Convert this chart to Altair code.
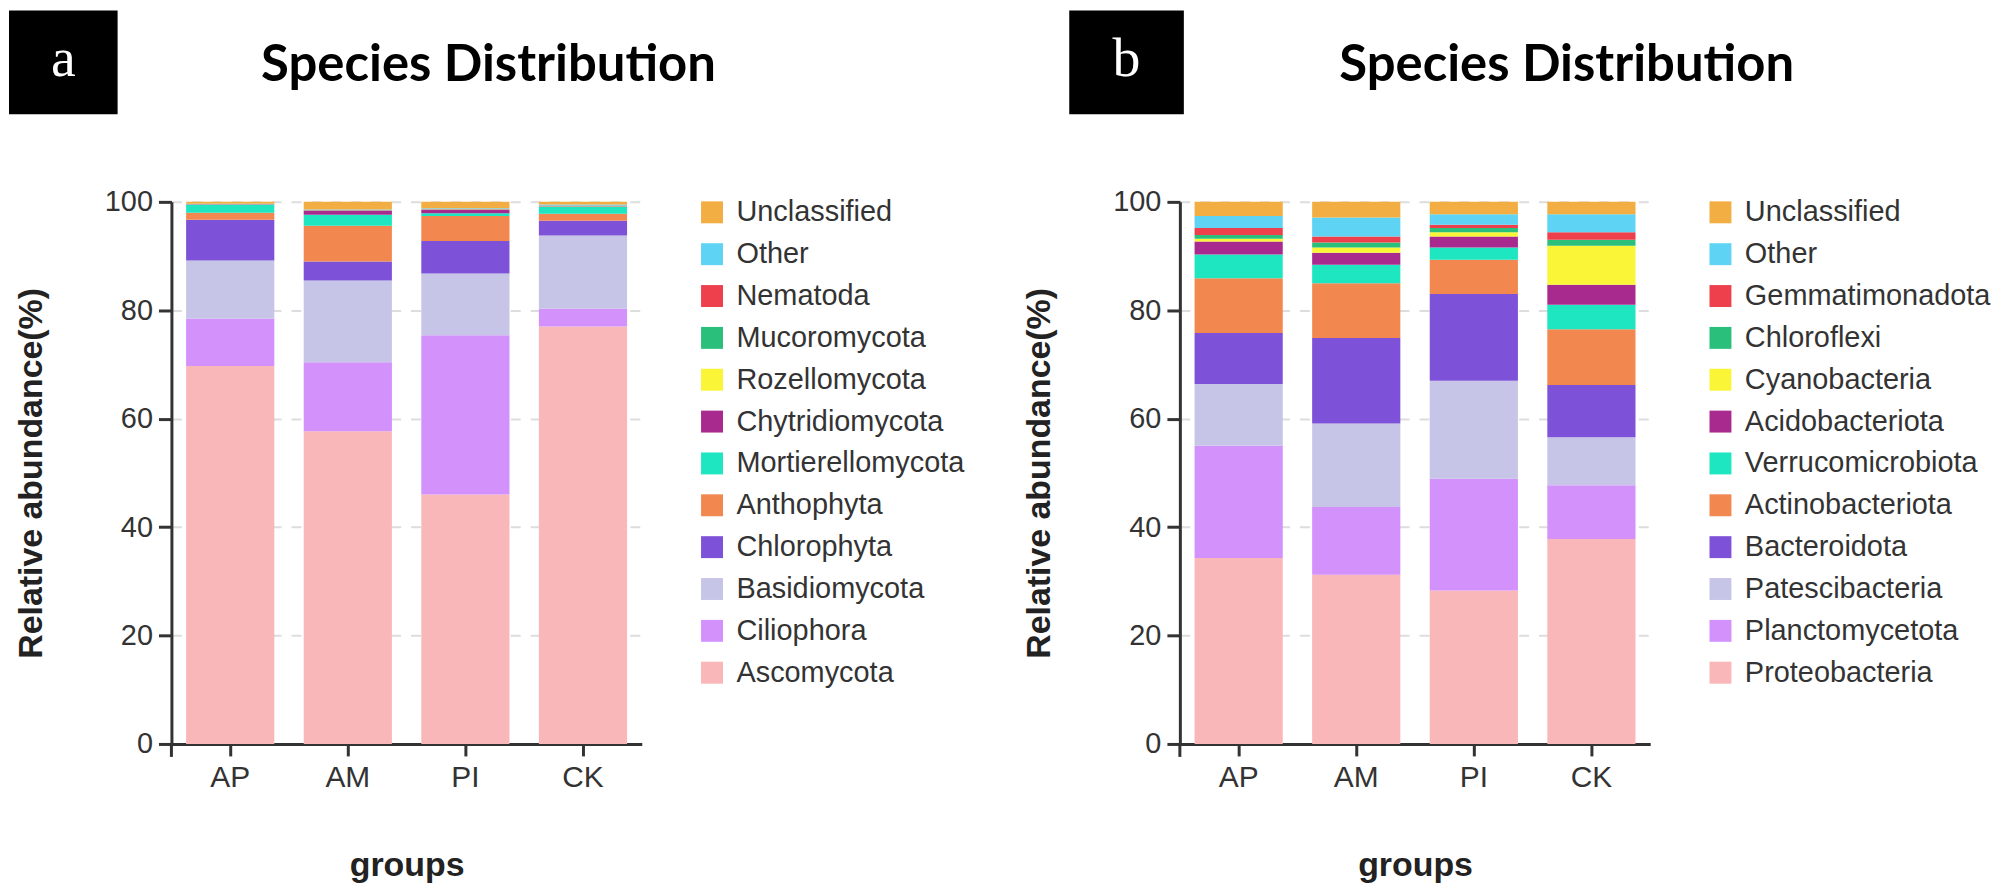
import altair as alt
import pandas as pd

groups = ["AP", "AM", "PI", "CK"]

# ---- panel a : fungi (bottom of stack first) ----
fungi_taxa = ["Ascomycota", "Ciliophora", "Basidiomycota", "Chlorophyta", "Anthophyta",
              "Mortierellomycota", "Chytridiomycota", "Rozellomycota", "Mucoromycota",
              "Nematoda", "Other", "Unclassified"]
fungi_AP = [69.7, 8.8, 10.7, 7.5, 1.3, 1.4, 0.05, 0.03, 0.03, 0.05, 0.10, 0.34]
fungi_AM = [57.7, 12.7, 15.1, 3.5, 6.6, 2.0, 0.7, 0.03, 0.03, 0.10, 0.14, 1.40]
fungi_PI = [46.0, 29.4, 11.4, 6.0, 4.6, 0.5, 0.6, 0.03, 0.03, 0.10, 0.14, 1.20]
fungi_CK = [77.0, 3.3, 13.5, 2.7, 1.3, 1.3, 0.10, 0.03, 0.03, 0.05, 0.19, 0.50]

# ---- panel b : bacteria (bottom of stack first) ----
bact_taxa = ["Proteobacteria", "Planctomycetota", "Patescibacteria", "Bacteroidota",
             "Actinobacteriota", "Verrucomicrobiota", "Acidobacteriota", "Cyanobacteria",
             "Chloroflexi", "Gemmatimonadota", "Other", "Unclassified"]
bact_AP = [34.3, 20.7, 11.4, 9.4, 10.1, 4.4, 2.4, 0.5, 0.7, 1.3, 2.2, 2.6]
bact_AM = [31.2, 12.5, 15.4, 15.8, 10.1, 3.4, 2.2, 1.0, 0.9, 1.1, 3.5, 2.9]
bact_PI = [28.3, 20.6, 18.1, 16.0, 6.3, 2.3, 2.0, 0.8, 0.8, 0.6, 1.9, 2.3]
bact_CK = [37.8, 9.9, 8.9, 9.6, 10.3, 4.5, 3.7, 7.2, 1.1, 1.4, 3.3, 2.3]

palette = ["#F9B7B9", "#D391FB", "#C6C5E7", "#7D52D8", "#F28850", "#1EE6C0",
           "#A92A8F", "#FBF538", "#2BBF7C", "#EE3F4D", "#5ED3F3", "#F2AE42"]

y_ticks = [0, 20, 40, 60, 80, 100]
W, H = 472, 544
SANS = "Liberation Sans"


def panel(taxa, series, letter, box_x1, box_x2, title_x):
    rows = []
    for g, vals in zip(groups, series):
        for i, (t, v) in enumerate(zip(taxa, vals)):
            rows.append({"group": g, "taxon": t, "value": v, "idx": i})
    df = pd.DataFrame(rows)

    bars = alt.Chart(df).mark_bar().encode(
        x=alt.X("group:N", sort=groups,
                scale=alt.Scale(paddingInner=0.25, paddingOuter=0.125),
                axis=alt.Axis(title="groups", labelAngle=0, grid=False, bandPosition=0.5,
                              tickSize=12, labelPadding=7, titlePadding=56)),
        y=alt.Y("value:Q", stack="zero",
                scale=alt.Scale(domain=[0, 100], nice=False),
                axis=alt.Axis(values=y_ticks, title="Relative abundance(%)", grid=True,
                              tickSize=13, labelPadding=6, titlePadding=56)),
        color=alt.Color("taxon:N",
                        scale=alt.Scale(domain=taxa[::-1], range=palette[::-1]),
                        legend=alt.Legend(orient="none", legendX=528, legendY=-4, title=None,
                                          symbolType="square", symbolSize=484,
                                          symbolStrokeWidth=0, symbolOpacity=1,
                                          labelFont=SANS, labelFontSize=29,
                                          labelColor="#333333", rowPadding=12,
                                          labelOffset=10, padding=0, labelLimit=400)),
        order=alt.Order("idx:Q", sort="ascending"),
    )

    one = pd.DataFrame({"t": [letter], "s": ["Species Distribution"]})
    ext = alt.Chart(one).mark_rule(color="#333333", strokeWidth=3).encode(
        x=alt.value(0), y=alt.value(H), y2=alt.value(H + 13))
    box = alt.Chart(one).mark_rect(color="black").encode(
        x=alt.value(box_x1), x2=alt.value(box_x2), y=alt.value(-192), y2=alt.value(-88))
    let = alt.Chart(one).mark_text(font="Liberation Serif", fontSize=56, color="white",
                                   align="center", baseline="alphabetic").encode(
        x=alt.value((box_x1 + box_x2) / 2), y=alt.value(-126), text="t:N")
    ttl = alt.Chart(one).mark_text(font="Lato", fontSize=51, fontWeight="bold", color="black",
                                   align="left", baseline="alphabetic").encode(
        x=alt.value(title_x), y=alt.value(-121), text="s:N")

    return alt.layer(bars, ext, box, let, ttl).properties(width=W, height=H)


pa = panel(fungi_taxa, [fungi_AP, fungi_AM, fungi_PI, fungi_CK], "a", -163, -54, 90)
pb = panel(bact_taxa, [bact_AP, bact_AM, bact_PI, bact_CK], "b", -111, 4, 160)

chart = alt.hconcat(pa, pb, spacing=57).resolve_scale(color="independent").properties(
    padding={"left": 0, "top": 0, "right": 0, "bottom": 0}
).configure_view(stroke="transparent").configure_axis(
    domainColor="#333333", domainWidth=3, tickColor="#333333", tickWidth=3,
    labelFont=SANS, labelFontSize=29, labelColor="#333333",
    titleFont=SANS, titleFontSize=34, titleFontWeight="bold", titleColor="#222222",
    gridColor="#dddddd", gridDash=[10, 10], gridWidth=2
).configure_axisX(labelFontSize=30)

chart.save("out.html", embed_options={"renderer": "svg", "actions": False})
